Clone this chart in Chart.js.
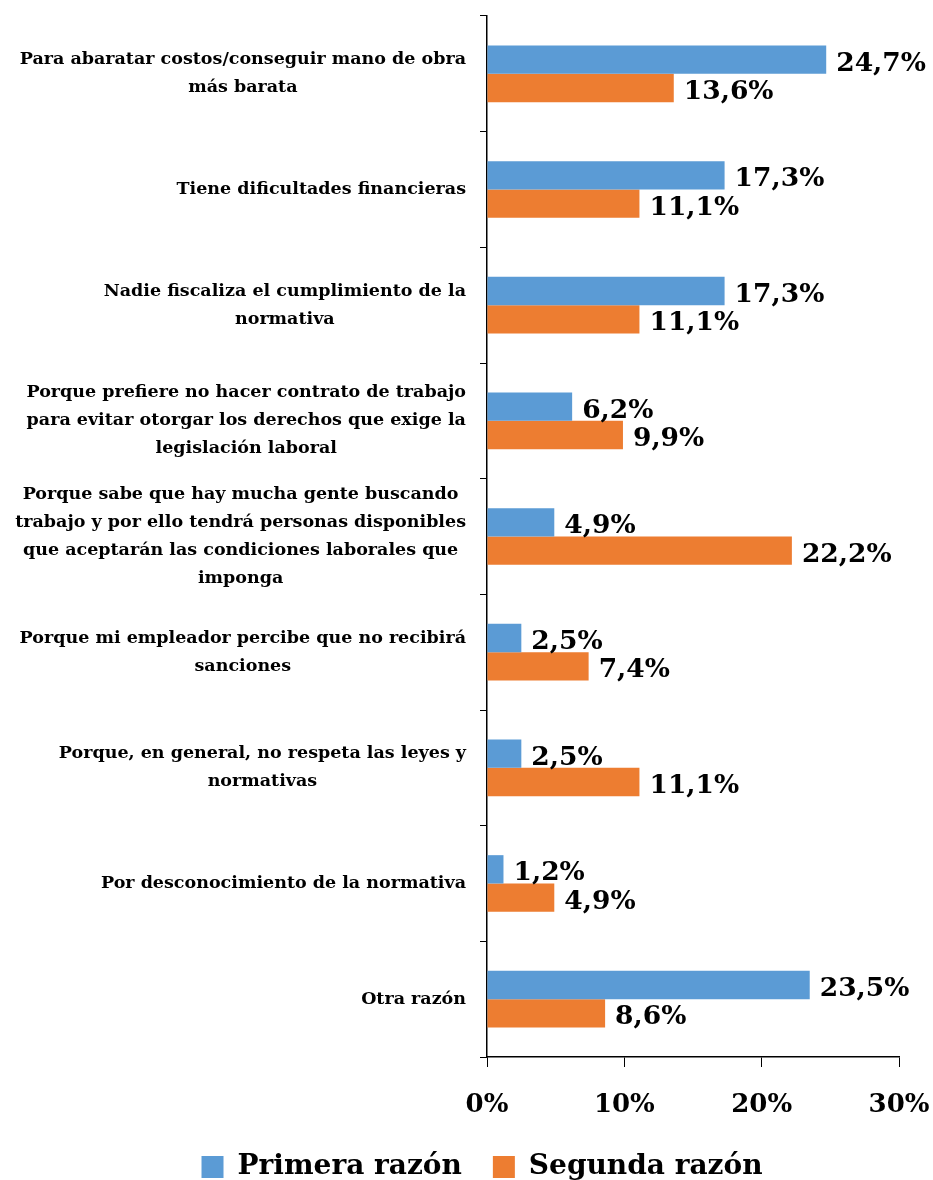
<!DOCTYPE html>
<html>
<head>
<meta charset="utf-8">
<script src="https://cdn.jsdelivr.net/npm/chart.js@4"></script>
<style>
  html, body { margin: 0; padding: 0; background: #fff; }
  #wrap { width: 933px; height: 1180px; }
</style>
</head>
<body>
<div id="wrap"><canvas id="chart"></canvas></div>
<script>
// Categories (one array of lines per label, as wrapped in the picture)
const categories = [
    ['Para abaratar costos/conseguir mano de obra', 'más barata'],
    ['Tiene dificultades financieras'],
    ['Nadie fiscaliza el cumplimiento de la', 'normativa'],
    ['Porque prefiere no hacer contrato de trabajo', 'para evitar otorgar los derechos que exige la', 'legislación laboral'],
    ['Porque sabe que hay mucha gente buscando', 'trabajo y por ello tendrá personas disponibles', 'que aceptarán las condiciones laborales que', 'imponga'],
    ['Porque mi empleador percibe que no recibirá', 'sanciones'],
    ['Porque, en general, no respeta las leyes y', 'normativas'],
    ['Por desconocimiento de la normativa'],
    ['Otra razón']
];

const seriesNames = ['Primera razón', 'Segunda razón'];
const primera = [24.7, 17.3, 17.3, 6.2, 4.9, 2.5, 2.5, 1.2, 23.5];
const segunda = [13.6, 11.1, 11.1, 9.9, 22.2, 7.4, 11.1, 4.9, 8.6];
const xTicks = [0, 10, 20, 30];

const FONT = '"DejaVu Serif", serif';

// Category labels: block aligned right, lines centered inside the block
const categoryLabels = {
    id: 'categoryLabels',
    afterDraw(chart) {
        const ctx = chart.ctx;
        const yScale = chart.scales.y;
        const rightEdge = yScale.right - 21;
        const lineH = 28;
        ctx.save();
        ctx.font = 'bold 17.5px ' + FONT;
        ctx.fillStyle = '#000';
        ctx.textAlign = 'center';
        ctx.textBaseline = 'middle';
        chart.data.labels.forEach((lines, i) => {
            const cy = yScale.getPixelForTick(i);
            const blockW = Math.max(...lines.map(l => ctx.measureText(l).width));
            const cx = rightEdge - blockW / 2;
            const top = cy - (lines.length - 1) * lineH / 2;
            lines.forEach((l, j) => ctx.fillText(l, cx, top + j * lineH));
        });
        ctx.restore();
    }
};

// Value labels to the right of each bar
const valueLabels = {
    id: 'valueLabels',
    afterDatasetsDraw(chart) {
        const ctx = chart.ctx;
        ctx.save();
        ctx.font = 'bold 26.5px ' + FONT;
        ctx.fillStyle = '#000';
        ctx.textAlign = 'left';
        ctx.textBaseline = 'middle';
        chart.data.datasets.forEach((ds, di) => {
            const meta = chart.getDatasetMeta(di);
            meta.data.forEach((bar, i) => {
                const txt = ds.data[i].toFixed(1).replace('.', ',') + '%';
                ctx.fillText(txt, bar.x + 10, bar.y + 4);
            });
        });
        ctx.restore();
    }
};

new Chart(document.getElementById('chart'), {
    type: 'bar',
    data: {
        labels: categories,
        datasets: [
            { label: seriesNames[0], data: primera, backgroundColor: '#5B9BD5' },
            { label: seriesNames[1], data: segunda, backgroundColor: '#ED7D31' }
        ]
    },
    options: {
        indexAxis: 'y',
        responsive: true,
        maintainAspectRatio: false,
        animation: false,
        categoryPercentage: 0.49,
        barPercentage: 1.0,
        layout: { padding: { top: 16, right: 34, bottom: -11, left: 65 } },
        plugins: {
            legend: {
                position: 'bottom',
                labels: {
                    color: '#000',
                    font: { family: FONT, size: 28, weight: 'bold' },
                    boxWidth: 22,
                    boxHeight: 22,
                    padding: 31
                }
            },
            tooltip: { enabled: false }
        },
        scales: {
            x: {
                min: 0,
                max: 30,
                afterBuildTicks: axis => { axis.ticks = xTicks.map(v => ({ value: v })); },
                afterFit: axis => {
                    axis.height = 65;
                    axis.paddingLeft = 0;
                    axis.paddingRight = 0;
                },
                ticks: {
                    color: '#000',
                    padding: 23,
                    font: { family: FONT, size: 26, weight: 'bold' },
                    callback: v => v + '%'
                },
                grid: { drawOnChartArea: false, tickLength: 10, color: '#000' },
                border: { color: '#000', width: 1.5 }
            },
            y: {
                afterFit: axis => { axis.width = 422; },
                ticks: { display: false },
                grid: { offset: true, drawOnChartArea: false, tickLength: 7, color: '#000' },
                border: { color: '#000', width: 1.5 }
            }
        }
    },
    plugins: [categoryLabels, valueLabels]
});
</script>
</body>
</html>
